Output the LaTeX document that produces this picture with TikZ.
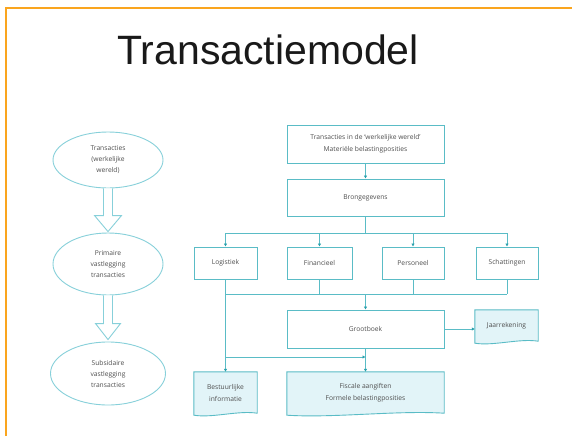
\documentclass[tikz,border=0pt]{standalone}
\usepackage{fontspec}
\setmainfont{Open Sans}
\newfontfamily\titlefont{Liberation Sans}
\usetikzlibrary{arrows.meta,calc,shapes.geometric,backgrounds}
\definecolor{frameorange}{RGB}{250,165,30}
\definecolor{lineblue}{RGB}{90,188,198}
\definecolor{tipblue}{RGB}{40,160,172}
\definecolor{ellblue}{RGB}{135,208,218}
\definecolor{docfillc}{RGB}{226,244,248}
\definecolor{txtgray}{RGB}{80,80,80}
\newcommand\docpath[1]{\draw[docshape] (#1.north west) -- (#1.north east) -- (#1.south east)
  .. controls ($(#1.south east)!0.3!(#1.south west)+(0,3pt)$) and ($(#1.south east)!0.7!(#1.south west)+(0,-5pt)$) .. ($(#1.south west)+(0,-2pt)$) -- cycle;}
\begin{document}
\begin{tikzpicture}[x=1pt,y=-1pt,
  txt/.style={text=txtgray,font=\fontsize{6.7}{12}\selectfont,align=center},
  box/.style={txt,draw=lineblue,line width=0.9pt,fill=white,rectangle,inner sep=1pt},
  ell/.style={ellipse,draw=ellblue,line width=0.9pt,fill=white,align=center,text=txtgray,font=\fontsize{6.7}{11}\selectfont,inner sep=0pt},
  doctext/.style={txt,rectangle,draw=none,inner sep=1pt},
  docshape/.style={draw=lineblue,line width=0.9pt,fill=docfillc},
  conn/.style={draw=lineblue,line width=0.9pt},
  arr/.style={conn,-{Latex[length=3pt,width=3.5pt,color=tipblue]}},
  blockarrow/.style={draw=ellblue,line width=0.9pt,fill=white,line join=miter}
]
\useasboundingbox (0,0) rectangle (572,436);
\begin{scope}[on background layer]
\fill[white] (0,0) rectangle (572,436);
\end{scope}
\draw[frameorange,line width=2pt] (5.5,436) -- (5.5,8.5) -- (572,8.5);

\node[font=\titlefont\fontsize{41}{41}\selectfont,text=black!90,anchor=base] (title) at (268,64) {Transactiemodel};

% left ellipses
\node[ell,minimum width=110pt,minimum height=56pt] (E1) at (108,160) {Transacties\\(werkelijke\\wereld)};
\node[ell,minimum width=110pt,minimum height=62pt] (E2) at (108,264) {Primaire\\vastlegging\\transacties};
\node[ell,minimum width=115pt,minimum height=63pt] (E3) at (108,373.5) {Subsidaire\\vastlegging\\transacties};

\draw[blockarrow] ($(E1.south)+(-4.5pt,0)$) -- ($(E2.north)+(-4.5pt,17pt)$) -- ($(E2.north)+(-13.5pt,17pt)$)
  -- ($(E2.north)+(0,1pt)$) -- ($(E2.north)+(13.5pt,17pt)$) -- ($(E2.north)+(4.5pt,17pt)$) -- ($(E1.south)+(4.5pt,0)$);
\draw[blockarrow] ($(E2.south)+(-4.5pt,0)$) -- ($(E3.north)+(-4.5pt,18pt)$) -- ($(E3.north)+(-12.5pt,18pt)$)
  -- ($(E3.north)+(0,2pt)$) -- ($(E3.north)+(12.5pt,18pt)$) -- ($(E3.north)+(4.5pt,18pt)$) -- ($(E2.south)+(4.5pt,0)$);

% right diagram
\node[box,minimum width=157pt,minimum height=38pt] (T) at (365.5,144) {Transacties in de `werkelijke wereld'\\Materiële belastingposities};
\node[box,minimum width=157pt,minimum height=37pt] (B) at (365.5,197.5) {Brongegevens};
\node[box,minimum width=63pt,minimum height=32pt] (L) at (225.5,263) {Logistiek};
\node[box,minimum width=65pt,minimum height=32pt] (F) at (319.5,263) {Financieel};
\node[box,minimum width=62pt,minimum height=32pt] (P) at (413,263) {Personeel};
\node[box,minimum width=62pt,minimum height=32pt] (S) at (507,263) {Schattingen};
\node[box,minimum width=157pt,minimum height=38pt] (G) at (365.5,329) {Grootboek};
\node[doctext,minimum width=63pt,minimum height=31pt] (J) at (506.5,325.5) {Jaarrekening};
\node[doctext,minimum width=63pt,minimum height=41pt] (BI) at (225.5,392.5) {Bestuurlijke\\informatie};
\node[doctext,minimum width=157pt,minimum height=41pt] (FA) at (365.5,392.5) {Fiscale aangiften\\Formele belastingposities};

\begin{scope}[on background layer]
\docpath{J}
\docpath{BI}
\docpath{FA}
\end{scope}

\coordinate (b1L) at (225.5,233);
\coordinate (b1R) at (507,233);
\coordinate (b2L) at (225.5,294);
\coordinate (b2R) at (507,294);
\coordinate (b3) at (225.5,357);

\draw[arr] (T) -- (B);
\draw[conn] (B.south) -- (B.south |- b1L);
\draw[conn] (b1L) -- (b1R);
\draw[arr] (b1L) -- (L.north);
\draw[arr] (F.north |- b1L) -- (F.north);
\draw[arr] (P.north |- b1L) -- (P.north);
\draw[arr] (b1R) -- (S.north);

\draw[arr] (L.south) -- (BI.north);
\draw[conn] (b2L) -- (b2R);
\draw[conn] (F.south) -- (F.south |- b2L);
\draw[conn] (P.south) -- (P.south |- b2L);
\draw[conn] (S.south) -- (b2R);
\draw[arr] (G.north |- b2L) -- (G.north);

\draw[arr] (G.east) -- (G.east -| J.west);
\draw[arr] (G.south) -- (FA.north);
\draw[arr] (b3) -- (G.south |- b3);
\end{tikzpicture}
\end{document}
